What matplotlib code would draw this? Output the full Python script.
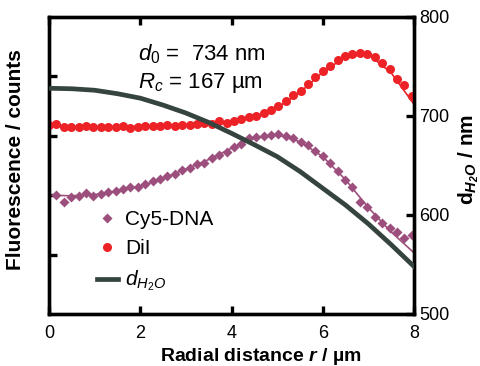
import numpy as np
import matplotlib.pyplot as plt
from matplotlib.lines import Line2D

plt.rcParams['font.family'] = ['Liberation Sans', 'DejaVu Sans']
plt.rcParams['mathtext.fontset'] = 'custom'
plt.rcParams['mathtext.rm'] = 'Liberation Sans'
plt.rcParams['mathtext.it'] = 'Liberation Sans:italic'
plt.rcParams['mathtext.bf'] = 'Liberation Sans:bold'
plt.rcParams['mathtext.bfit'] = 'Liberation Sans:italic:bold'

# radial sample positions (um), 50 pixels across the profile
r_pts = np.linspace(0, 7.95, 50)

# DiI intensity (a.u.), one value per sample
dii = [3182, 3199, 3143, 3143, 3143, 3171, 3154, 3154, 3154, 3154,
       3165, 3137, 3143, 3159, 3165, 3165, 3182, 3171, 3176, 3176,
       3199, 3210, 3199, 3244, 3210, 3255, 3277, 3311, 3333, 3378,
       3434, 3502, 3586, 3687, 3760, 3872, 3984, 4091, 4175, 4276,
       4343, 4377, 4400, 4377, 4321, 4231, 4119, 3962, 3855, 3670]

# Cy5-DNA intensity (a.u.), starts at the second sample
cy5 = [2003, 1891, 1970, 1987, 2042, 1992, 2015, 2054, 2071,
       2099, 2143, 2143, 2194, 2239, 2268, 2323, 2357, 2424, 2453,
       2525, 2547, 2621, 2677, 2732, 2816, 2862, 2958, 2985, 2997,
       3013, 3030, 2988, 2966, 2901, 2837, 2744, 2660, 2537, 2407,
       2256, 2130, 1891, 1793, 1633, 1540, 1448, 1372, 1283, 1330]

# fitted curves and water gap thickness, read every 0.5 um
r_fit = [0, 0.5, 1, 1.5, 2, 2.5, 3, 3.5, 4, 4.5, 5, 5.5, 6, 6.5, 7, 7.5, 8]
dii_fit = [3170, 3150, 3150, 3155, 3160, 3170, 3185, 3205, 3240,
           3320, 3470, 3730, 4070, 4330, 4370, 4060, 3530]
cy5_fit = [2000, 1990, 2010, 2070, 2150, 2280, 2440, 2600, 2790,
           2960, 3020, 2900, 2650, 2260, 1790, 1380, 1030]
d_h2o = [728, 727.5, 726, 722.5, 718, 711, 703, 693.5, 682.5,
         671, 659, 644, 627, 610, 591, 570, 548]

red = '#ec2227'
purple = '#9c4f7c'
dark = '#36443f'

fig = plt.figure(figsize=(4.81, 3.66), dpi=100)
ax = fig.add_axes([0.1019, 0.1421, 0.7588, 0.8115])

ax.plot(r_fit, dii_fit, color=red, lw=1.2, zorder=2)
ax.plot(r_fit, cy5_fit, color=purple, lw=1.2, zorder=2)
ax.plot(r_pts, dii, 'o', color=red, ms=6.5, mec='none', zorder=3)
ax.plot(r_pts[1:], cy5, 'D', color=purple, ms=5.5, mec='none', zorder=3)

ax.set_xlim(0, 8)
ax.set_ylim(0, 5000)
ax.set_xticks([0, 2, 4, 6, 8])
ax.set_yticks([1000, 2000, 3000, 4000])
ax.set_yticklabels([])
ax.tick_params(axis='x', direction='in', top=True, length=6, width=2.4,
               labelsize=13, pad=8)
ax.tick_params(axis='y', direction='in', right=False, length=6, width=2.4)
for s in ax.spines.values():
    s.set_linewidth(2.4)

ax.set_xlabel(r'Radial distance $\mathbfit{r}$ / µm',
              fontsize=14, fontweight='bold')
ax.xaxis.set_label_coords(0.581, -0.108)
ax.set_ylabel('Fluorescence / counts', fontsize=15, fontweight='bold')
ax.yaxis.set_label_coords(-0.065, 0.52)

ax2 = ax.twinx()
ax2.plot(r_fit, d_h2o, color=dark, lw=3.4, zorder=4)
ax2.set_ylim(500, 800)
ax2.set_yticks([500, 600, 700, 800])
ax2.tick_params(axis='y', direction='in', length=6, width=2.4,
                labelsize=13, pad=4)
for s in ax2.spines.values():
    s.set_linewidth(2.4)
ax2.set_ylabel(r'$\mathbf{d}_{\mathbfit{H_2O}}$ / nm', fontsize=15,
               fontweight='bold')
ax2.yaxis.set_label_coords(1.115, 0.52)

ax.text(0.244, 0.855, r'$\mathit{d_0}$ =  734 nm', transform=ax.transAxes,
        fontsize=16, va='baseline')
ax.text(0.244, 0.761, r'$\mathit{R_c}$ = 167 µm', transform=ax.transAxes,
        fontsize=16, va='baseline')

handles = [Line2D([], [], ls='none', marker='D', color=purple, ms=5.5, mec='none'),
           Line2D([], [], ls='none', marker='o', color=red, ms=6.5, mec='none'),
           Line2D([], [], color=dark, lw=3.4)]
labels = ['Cy5-DNA', 'DiI', r'$d_{H_2O}$']
ax2.legend(handles, labels, loc='upper left', bbox_to_anchor=(0.1315, 0.35),
           frameon=False, fontsize=15, borderpad=0, borderaxespad=0,
           handlelength=1.0, handletextpad=0.35, labelspacing=0.5)

fig.savefig('out.png', dpi=100)
